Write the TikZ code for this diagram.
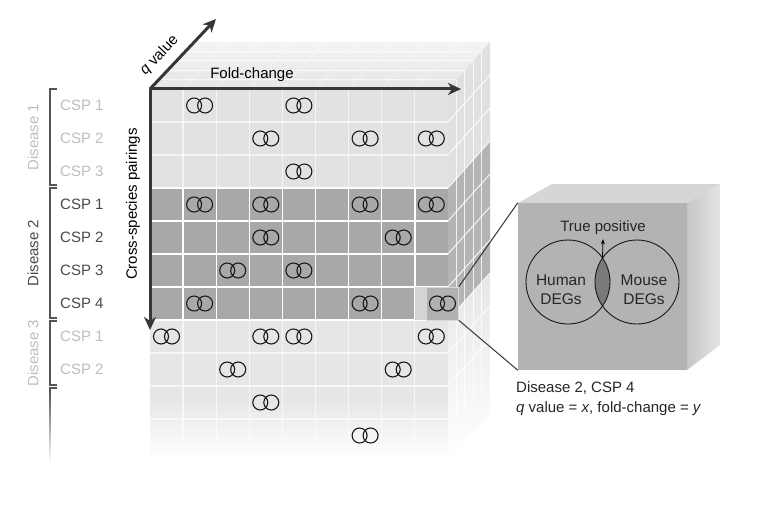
\documentclass[tikz,border=0pt]{standalone}
\usepackage{fontspec}
\setmainfont{Liberation Sans}
\usetikzlibrary{arrows.meta}
\definecolor{axisgray}{HTML}{363636}
\definecolor{dkgray}{HTML}{A8A8A8}
\definecolor{frontlight}{HTML}{E2E2E2}
\definecolor{frontlow}{HTML}{E6E6E6}
\definecolor{topfront}{HTML}{E5E5E5}
\definecolor{topback}{HTML}{F4F4F4}
\definecolor{rfl}{HTML}{E0E0E0}
\definecolor{rfd}{HTML}{B4B4B4}
\definecolor{holegray}{HTML}{D4D4D4}
\definecolor{popgray}{HTML}{B0B0B0}
\definecolor{lightlbl}{HTML}{BEBEBE}
\definecolor{darklbl}{HTML}{4A4A4A}
\definecolor{brk}{HTML}{555555}
\definecolor{boxfront}{HTML}{B3B3B3}
\definecolor{boxtop}{HTML}{D6D6D6}
\definecolor{boxside}{HTML}{C6C6C6}
\definecolor{boxsidelight}{HTML}{E4E4E4}
\definecolor{lensgray}{HTML}{7A7A7A}
\begin{document}
\begin{tikzpicture}[x=1pt,y=-1pt,
  lbl/.style={font=\fontsize{15}{18}\selectfont, inner sep=0pt},
  axisarrow/.style={line width=3pt, draw=axisgray, -{Stealth[length=13pt,width=12pt,inset=4pt]}},
  pairnode/.style={inner sep=0pt, minimum width=26pt, minimum height=15pt},
  ring/.style={draw=black!90, line width=1.1pt},
  gridw/.style={draw=white, line width=1.4pt},
  gridsoft/.style={draw=white, line width=1.3pt, opacity=0.65},
  layerw/.style={draw=white, line width=1.1pt, opacity=0.8},
  bracketline/.style={draw=brk, line width=1.3pt},
  connector/.style={draw=axisgray, line width=1pt},
  venn/.style={circle, draw=black!90, line width=0.9pt, minimum size=84pt, inner sep=0pt}]
\useasboundingbox (0,0) rectangle (779,524);
\fill[white] (0,0) rectangle (779,524);

% ---- top face of the block
\shade[top color=topback, bottom color=topfront] (150,89) -- (192,42) -- (490,42) -- (448,89) -- cycle;
\foreach \i in {1,...,4}
  \draw[layerw, opacity=0.7] (150+8.4*\i, 89-9.4*\i) -- (448+8.4*\i, 89-9.4*\i);
\foreach \k in {1,...,8}
  \draw[layerw, opacity=0.35] (150+33.1*\k, 89) -- (192+33.1*\k, 42);

% ---- right face of the block
\fill[rfl] (448,89) -- (490,42) -- (490,141) -- (448,188) -- cycle;
\fill[rfd] (448,188) -- (490,141) -- (490,273) -- (448,320) -- cycle;
\shade[top color=frontlow, bottom color=white] (448,320) -- (490,273) -- (490,415) -- (448,458) -- cycle;
\foreach \i in {1,...,4}
  \draw[layerw] (448+8.4*\i, 89-9.4*\i) -- (448+8.4*\i, 430-9.4*\i);
\foreach \y in {122,155,188,221,254,287,320,353,386}
  \draw[layerw] (448,\y) -- (490,\y-47);

% ---- front face of the block
\fill[frontlight] (150,89) rectangle (448,188);
\fill[dkgray] (150,188) rectangle (448,320);
\fill[frontlow] (150,320) rectangle (448,398);
\shade[top color=frontlow, bottom color=white] (150,398) rectangle (448,458);
\foreach \k in {1,...,8} {
  \draw[gridsoft] (150+33.1*\k, 89) -- (150+33.1*\k, 188);
  \draw[gridw] (150+33.1*\k, 188) -- (150+33.1*\k, 320);
  \draw[gridsoft] (150+33.1*\k, 320) -- (150+33.1*\k, 440);
}
\foreach \y in {122,155,353,386,419}
  \draw[gridsoft] (150,\y) -- (448,\y);
\foreach \y in {188,221,254,287,320}
  \draw[gridw] (150,\y) -- (448,\y);

% hole and popped-out cell
\fill[holegray] (415,287) rectangle (448,320);
\node[draw=white!70!gray, line width=0.8pt, fill=popgray, minimum width=32pt, minimum height=33pt, inner sep=0pt] (cell) at (442.5,303.5) {};

% ---- overlapping-circle glyphs
\foreach \n/\cc/\rr in {a/1/0, b/4/0,
                      c/3/1, d/6/1, e/8/1,
                      f/4/2,
                      g/1/3, h/3/3, i/6/3, j/8/3,
                      k/3/4, l/7/4,
                      m/2/5, n/4/5,
                      o/1/6, p/6/6,
                      q/0/7, r/3/7, s/4/7, t/8/7,
                      u/2/8, v/7/8,
                      w/3/9,
                      x/6/10} {
  \node[pairnode] (pr\n) at (166.5+33.1*\cc, 105.5+33*\rr) {};
  \draw[ring] ([xshift=-5.5pt]pr\n.center) circle[radius=7.5pt]
              ([xshift=5.5pt]pr\n.center) circle[radius=7.5pt];
}

% ---- axes
\coordinate (O) at (150,89);
\coordinate (qend) at (216,19);
\coordinate (fend) at (461,89);
\coordinate (cend) at (150,330);
\draw[axisarrow] (O) -- (qend);
\draw[axisarrow] (O) -- (fend);
\draw[axisarrow] (O) -- (cend);
\node[lbl, rotate=46.7] (qlabel) at (159.5,55.5) {\textit{q} value};
\node[lbl] (fclabel) at (252,75) {Fold-change};
\node[lbl, rotate=90] (csplabel) at (133,204) {Cross-species pairings};

% ---- left brackets and labels
\draw[bracketline] (57,89) -- (50,89) -- (50,185) -- (57,185);
\draw[bracketline] (57,188) -- (50,188) -- (50,318) -- (57,318);
\draw[bracketline] (57,321) -- (50,321) -- (50,385) -- (57,385);
\draw[bracketline] (57,388) -- (50,388) -- (50,392);
\shade[top color=brk, bottom color=white] (49.35,391) rectangle (50.65,462);

\node[lbl, rotate=90, text=lightlbl] (dis1) at (33,137) {Disease 1};
\node[lbl, rotate=90, text=darklbl] (dis2) at (33,253) {Disease 2};
\node[lbl, rotate=90, text=lightlbl] (dis3) at (33,353) {Disease 3};

\foreach \n/\t/\rr/\col in {a/CSP 1/0/lightlbl, b/CSP 2/1/lightlbl, c/CSP 3/2/lightlbl,
                           d/CSP 1/3/darklbl, e/CSP 2/4/darklbl, f/CSP 3/5/darklbl, g/CSP 4/6/darklbl,
                           h/CSP 1/7/lightlbl, i/CSP 2/8/lightlbl}
  \node[lbl, anchor=west, text=\col] (csp\n) at (60, 105.5+33*\rr) {\t};

% ---- zoomed box
\fill[boxtop] (518,203) -- (552,184) -- (720,184) -- (687,203) -- cycle;
\shade[left color=boxside, right color=boxsidelight] (687,203) -- (720,184) -- (720,345) -- (687,370) -- cycle;
\node[fill=boxfront, minimum width=169pt, minimum height=167pt, inner sep=0pt] (zoombox) at (602.5,286.5) {};

\draw[connector] (cell.north east) -- (zoombox.north west);
\draw[connector] (cell.south east) -- (zoombox.south west);

% Venn diagram
\begin{scope}
  \clip (568,282) circle[radius=42pt];
  \fill[lensgray] (637,282) circle[radius=42pt];
\end{scope}
\node[venn] (human) at (568,282) {};
\node[venn] (mouse) at (637,282) {};
\coordinate (lenstop) at (602.5,258);
\node[lbl, text=black!85] (tp) at (603,228) {True positive};
\draw[line width=0.8pt, -{Stealth[length=5pt,width=4pt]}] (lenstop) -- ([yshift=-4pt]tp.south);
\node[lbl, align=center, text=black!85, font=\fontsize{15.5}{19}\selectfont] (hdeg) at (561,290) {Human\\DEGs};
\node[lbl, align=center, text=black!85, font=\fontsize{15.5}{19}\selectfont] (mdeg) at (644,290) {Mouse\\DEGs};

% caption
\node[lbl, anchor=west, text=black!85] (cap1) at (516,388) {Disease 2, CSP 4};
\node[lbl, anchor=west, text=black!85] (cap2) at (516,409) {\textit{q} value = \textit{x}, fold-change = \textit{y}};

% circle pair in the popped-out cell (drawn last)
\node[pairnode] (prz) at (cell.center) {};
\draw[ring] ([xshift=-5.5pt]prz.center) circle[radius=7.5pt]
            ([xshift=5.5pt]prz.center) circle[radius=7.5pt];
\end{tikzpicture}
\end{document}
